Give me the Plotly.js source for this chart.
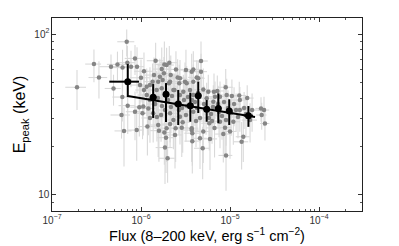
<!DOCTYPE html>
<html>
<head>
<meta charset="utf-8">
<script src="https://cdn.plot.ly/plotly-3.0.1.min.js"></script>
<style>html,body{margin:0;padding:0;background:#fff;}#chart{width:399px;height:246px;}</style>
</head>
<body>
<div id="chart"></div>
<script>
// Individual bursts (grey)
const grayFlux = [1.91e-7,2.96e-7,3.37e-7,4.60e-7,4.91e-7,5.44e-7,6.20e-7,6.91e-7,8.56e-7,9.02e-7,
1.00e-6,9.75e-7,6.17e-7,6.04e-7,1.08e-6,1.46e-6,1.71e-6,1.83e-6,2.08e-6,1.40e-6,
1.81e-6,2.16e-6,2.58e-6,3.20e-6,3.87e-6,4.72e-6,4.72e-6,1.26e-6,1.56e-6,1.75e-6,
2.06e-6,2.37e-6,2.69e-6,3.12e-6,3.87e-6,4.40e-6,1.08e-6,1.16e-6,1.71e-6,2.31e-6,
2.99e-6,3.55e-6,3.87e-6,5.01e-6,5.70e-6,6.61e-6,7.20e-6,7.72e-6,8.95e-6,9.18e-6,
1.27e-5,1.56e-5,6.78e-6,2.23e-5,2.41e-5,2.27e-5,2.47e-5,5.47e-6,6.49e-6,1.29e-5,
1.41e-5,1.35e-5,8.41e-6,5.96e-6,4.93e-6,6.70e-6,8.79e-6,9.02e-6,1.00e-5,5.01e-6,
5.85e-6,7.72e-6,1.09e-5,1.04e-6,1.18e-6,1.56e-6,1.59e-6,1.83e-6,1.91e-6,1.94e-6,
2.41e-6,1.86e-6,1.99e-6,2.45e-6,2.94e-6,3.71e-6,3.77e-6,1.21e-6,1.37e-6,2.31e-6,
1.06e-6,7.09e-7,8.56e-7,9.57e-7,6.44e-7,8.95e-7,2.87e-6,3.77e-6,1.16e-6,1.35e-6,
1.50e-6,1.63e-6,1.94e-6,2.12e-6,2.74e-6,3.26e-6,3.71e-6,1.86e-6,2.12e-6,2.74e-6,
3.87e-6,2.47e-6,4.23e-6,4.60e-6,3.71e-6,7.03e-7,7.72e-7,
1.26e-6,1.44e-6,1.55e-6,1.72e-6,1.51e-6,2.01e-6,2.23e-6,2.47e-6,2.67e-6,3.04e-6,
3.29e-6,3.20e-6,4.04e-6,4.26e-6,4.60e-6,5.10e-6,5.38e-6,6.12e-6,6.44e-6,7.33e-6,
7.52e-6,8.13e-6,8.57e-6,9.50e-6,1.03e-5,1.11e-5,1.17e-5,1.23e-5,1.44e-5,1.51e-5,
1.68e-5,1.77e-5,1.05e-5,3.37e-6,2.17e-6,1.68e-6,5.81e-6,9.02e-6,2.89e-6,4.37e-6,
1.86e-6,2.74e-6,3.74e-6,1.26e-6,2.12e-6,4.15e-6,6.28e-6,1.29e-5];
const grayEpeak = [46.7,65.1,53.7,62.7,45.9,64.8,61.9,89.6,70.6,62.7,
53.5,48.2,40.6,31.4,58.7,68.3,60.6,64.8,66.4,55.6,
57.0,55.6,53.8,59.8,60.3,68.0,58.4,48.2,50.6,51.8,
49.4,44.9,49.4,50.6,50.6,53.1,44.9,41.8,46.0,44.9,
43.8,44.9,41.8,45.2,43.8,43.8,44.3,40.8,46.7,41.8,
41.5,40.0,40.8,34.5,33.7,31.4,27.8,39.9,38.0,38.9,
23.0,21.4,23.9,22.3,19.5,26.1,26.2,17.6,24.8,24.8,
27.9,28.5,28.5,32.2,26.6,27.2,25.1,24.4,22.7,26.0,
23.6,19.7,16.9,26.0,28.3,26.0,21.6,34.5,32.2,29.2,
35.4,35.9,32.9,35.1,25.0,25.3,26.2,24.2,47.1,50.6,
44.9,54.3,64.2,50.6,53.1,49.4,58.4,33.7,32.2,30.6,
32.9,60.3,53.8,22.5,25.3,66.4,62.7,
38.9,36.7,40.0,35.7,30.5,38.9,41.2,36.7,33.7,38.9,
35.7,31.4,37.8,34.7,30.1,36.7,33.7,31.8,35.2,36.7,
32.8,31.0,37.8,34.7,32.3,36.7,33.7,30.5,34.7,31.8,
29.2,33.7,41.2,40.6,35.2,31.4,30.1,29.2,34.7,43.0,
41.8,41.8,38.9,30.1,27.6,28.8,28.8,33.7];
const grayFluxErr = [0.5e-7,0.6e-7,0.8e-7,1.2e-7,1.0e-7,1.3e-7,1.4e-7,1.5e-7,2.0e-7,1.8e-7,
2.5e-7,2.2e-7,1.4e-7,1.5e-7,2.4e-7,3.0e-7,3.5e-7,4.0e-7,4.5e-7,3.0e-7,
3.5e-7,5.0e-7,5.0e-7,6.0e-7,8.0e-7,9.0e-7,8.0e-7,2.5e-7,3.0e-7,3.5e-7,
4.0e-7,5.0e-7,5.0e-7,6.0e-7,7.0e-7,8.0e-7,2.2e-7,2.5e-7,3.5e-7,4.5e-7,
6.0e-7,7.0e-7,7.0e-7,1.0e-6,1.1e-6,1.3e-6,1.4e-6,1.5e-6,1.8e-6,1.8e-6,
2.5e-6,2.8e-6,1.3e-6,3.0e-6,3.5e-6,3.0e-6,3.0e-6,1.0e-6,1.2e-6,2.4e-6,
2.5e-6,2.5e-6,1.6e-6,1.2e-6,1.0e-6,1.3e-6,1.6e-6,1.6e-6,1.8e-6,1.0e-6,
1.1e-6,1.5e-6,2.0e-6,2.2e-7,2.5e-7,3.0e-7,3.2e-7,3.5e-7,3.8e-7,4.0e-7,
5.0e-7,4.0e-7,4.0e-7,5.0e-7,6.0e-7,7.0e-7,7.0e-7,2.5e-7,3.0e-7,4.5e-7,
2.2e-7,1.5e-7,1.8e-7,2.0e-7,1.4e-7,1.8e-7,5.5e-7,7.0e-7,2.5e-7,2.8e-7,
3.0e-7,3.5e-7,4.0e-7,4.5e-7,5.5e-7,6.5e-7,7.5e-7,4.0e-7,4.5e-7,5.5e-7,
8.0e-7,5.0e-7,8.5e-7,9.0e-7,7.5e-7,1.5e-7,1.7e-7,
2.5e-7,3.0e-7,3.0e-7,3.5e-7,3.0e-7,4.0e-7,4.5e-7,5.0e-7,5.5e-7,6.0e-7,
6.5e-7,6.5e-7,8.0e-7,8.5e-7,9.0e-7,1.0e-6,1.1e-6,1.2e-6,1.3e-6,1.5e-6,
1.5e-6,1.6e-6,1.7e-6,1.9e-6,2.0e-6,2.2e-6,2.3e-6,2.5e-6,2.8e-6,3.0e-6,
3.3e-6,3.5e-6,2.1e-6,6.5e-7,4.5e-7,3.5e-7,1.2e-6,1.8e-6,6.0e-7,9.0e-7,
3.8e-7,5.5e-7,7.5e-7,2.5e-7,4.2e-7,8.0e-7,1.2e-6,2.5e-6];
const grayEpeakErr = [13,15,14,12,10,13,18,17,15,20,
16,13,12,9,18,20,22,25,18,16,
15,18,16,20,18,22,17,14,15,13,
14,12,15,16,14,15,12,11,13,12,
12,13,11,16,12,13,11,10,14,11,
9,8,10,6,7,6,6,10,10,8,
7,7,8,8,7,9,9,7,8,9,
9,9,8,10,9,10,9,9,9,10,
9,8,5,10,10,10,8,11,11,10,
12,12,11,12,10,9,9,9,14,15,
14,16,18,14,16,14,17,11,11,10,
11,18,15,8,9,18,16,
12,11,12,11,9,12,12,11,10,12,
11,10,11,10,9,11,10,9,10,11,
10,9,11,10,9,10,9,8,9,9,
8,9,11,12,11,10,9,9,10,13,
13,12,11,9,8,9,8,9];

// Binned averages (black)
const binFlux = [7.1e-7,1.37e-6,1.91e-6,2.62e-6,3.58e-6,4.40e-6,5.47e-6,7.39e-6,9.80e-6,1.61e-5];
const binFluxErrPlus = [2.4e-7,1.2e-7,1.6e-7,2.2e-7,3.0e-7,3.6e-7,4.5e-7,6.0e-7,8.0e-7,2.0e-6];
const binFluxErrMinus = [2.7e-7,1.1e-7,1.4e-7,2.0e-7,2.7e-7,3.3e-7,4.1e-7,5.5e-7,7.4e-7,1.8e-6];
const binEpeak = [50.6,40.5,42.2,36.7,35.9,41.3,34.1,34.5,33.3,31.1];
const binEpeakErrPlus = [14.5,8.4,7.4,8.2,7.3,9.3,4.8,8.3,6.0,4.6];
const binEpeakErrMinus = [10.0,10.4,13.8,9.5,7.4,9.0,5.6,6.6,6.1,4.6];

// Power-law fit
const fitFlux = [7.1e-7,1.91e-5];
const fitEpeak = [41.2,30.5];

const traces = [
  {
    x: grayFlux, y: grayEpeak, type: 'scatter', mode: 'markers',
    marker: {color: '#858585', size: 4.5},
    error_x: {type: 'data', array: grayFluxErr, color: '#d9d9d9', thickness: 1.1, width: 0},
    error_y: {type: 'data', array: grayEpeakErr, color: '#d9d9d9', thickness: 1.1, width: 0},
    hoverinfo: 'skip', showlegend: false
  },
  {
    x: fitFlux, y: fitEpeak, type: 'scatter', mode: 'lines',
    line: {color: '#000', width: 2}, showlegend: false
  },
  {
    x: binFlux, y: binEpeak, type: 'scatter', mode: 'markers',
    marker: {color: '#000', size: 7},
    error_x: {type: 'data', array: binFluxErrPlus, arrayminus: binFluxErrMinus, color: '#000', thickness: 2, width: 0},
    error_y: {type: 'data', array: binEpeakErrPlus, arrayminus: binEpeakErrMinus, color: '#000', thickness: 2, width: 0},
    showlegend: false
  }
];

const axisCommon = {
  type: 'log', dtick: 1, exponentformat: 'power', showexponent: 'all',
  ticks: 'inside', ticklen: 4, tickcolor: '#333', mirror: 'ticks',
  showline: true, linecolor: '#222', linewidth: 1,
  showgrid: false, zeroline: false,
  tickfont: {size: 8, color: '#333', family: 'Liberation Sans, Arial, sans-serif'},
  minor: {ticks: 'inside', ticklen: 2, tickcolor: '#555', dtick: 'D1', showgrid: false}
};

const layout = {
  width: 399, height: 246,
  margin: {l: 52, r: 37, t: 18, b: 35},
  paper_bgcolor: '#fff', plot_bgcolor: '#fff',
  font: {family: 'Liberation Sans, Arial, sans-serif', color: '#000'},
  xaxis: Object.assign({}, axisCommon, {
    range: [-7, -3.517],
    title: {text: 'Flux (8–200 keV, erg s<sup>−1</sup> cm<sup>−2</sup>)', font: {size: 14.5}, standoff: 5}
  }),
  yaxis: Object.assign({}, axisCommon, {
    range: [0.9, 2.1],
    title: {text: 'E<sub>peak</sub> (keV)', font: {size: 16}, standoff: 4}
  }),
  showlegend: false
};

Plotly.newPlot('chart', traces, layout, {staticPlot: true, displayModeBar: false});
</script>
</body>
</html>
